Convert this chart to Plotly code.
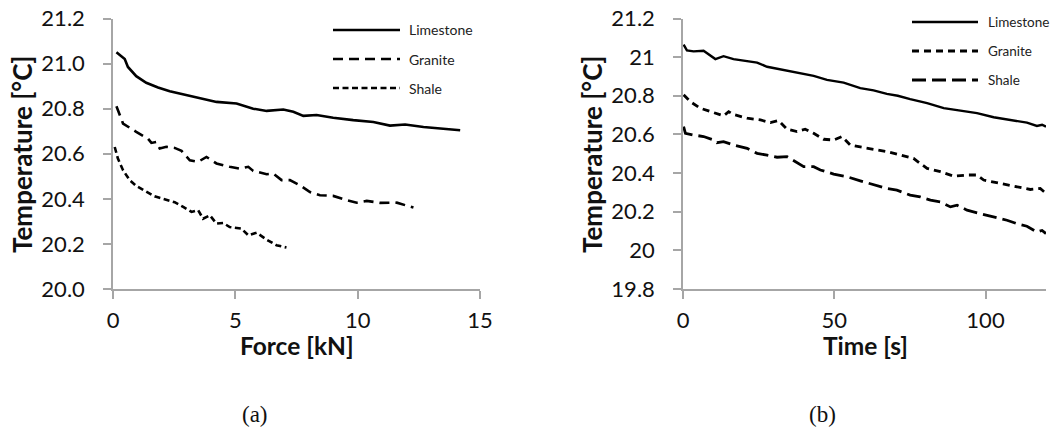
import plotly.graph_objects as go

# ---------------- (a) Temperature vs Force ----------------
a_lime_force = [0.14, 0.48, 0.61, 0.95, 1.36, 1.84, 2.32, 3.0, 3.82, 4.23, 5.05, 5.73, 6.28,
                6.96, 7.37, 7.78, 8.32, 9.0, 9.82, 10.64, 11.32, 11.94, 12.69, 13.5, 14.19]
a_lime_temp = [21.05, 21.02, 20.985, 20.944, 20.915, 20.894, 20.877, 20.86, 20.84, 20.83, 20.823,
               20.80, 20.79, 20.796, 20.786, 20.768, 20.772, 20.76, 20.749, 20.741, 20.725, 20.73,
               20.719, 20.71, 20.704]

a_gran_force = [0.14, 0.41, 0.95, 1.43, 1.57, 1.77, 1.91, 2.18, 2.52, 2.80, 3.14, 3.48, 3.82,
                4.23, 4.77, 5.18, 5.53, 5.73, 6.28, 6.55, 6.89, 7.23, 7.64, 8.05, 8.46, 9.0,
                9.55, 9.96, 10.37, 10.91, 11.6, 12.28]
a_gran_temp = [20.811, 20.734, 20.697, 20.667, 20.648, 20.652, 20.623, 20.631, 20.626, 20.613,
               20.571, 20.564, 20.586, 20.557, 20.542, 20.534, 20.542, 20.524, 20.509, 20.512,
               20.483, 20.483, 20.46, 20.43, 20.416, 20.413, 20.394, 20.383, 20.391, 20.382,
               20.383, 20.361]

a_shale_force = [0.07, 0.2, 0.41, 0.68, 0.95, 1.36, 1.7, 2.05, 2.52, 2.87, 3.21, 3.48, 3.68,
                 3.96, 4.23, 4.5, 4.77, 5.25, 5.53, 5.87, 6.28, 6.68, 7.09]
a_shale_temp = [20.63, 20.579, 20.527, 20.483, 20.457, 20.431, 20.411, 20.40, 20.385, 20.364,
                20.342, 20.35, 20.312, 20.327, 20.29, 20.293, 20.275, 20.268, 20.238, 20.25,
                20.219, 20.194, 20.184]

# ---------------- (b) Temperature vs Time ----------------
b_lime_time = [0.2, 1.3, 3.5, 6.8, 10.7, 13.4, 16.7, 21.2, 24.5, 27.8, 32.2, 37.7, 43.2, 47.6,
               53.1, 58.6, 63.0, 67.4, 71.0, 75.1, 80.7, 86.2, 91.7, 97.2, 102.7, 108.2, 113.7,
               117.0, 118.7, 120.0]
b_lime_temp = [21.065, 21.035, 21.03, 21.033, 20.99, 21.005, 20.99, 20.978, 20.972, 20.95,
               20.937, 20.917, 20.903, 20.882, 20.868, 20.84, 20.828, 20.81, 20.8, 20.783,
               20.762, 20.736, 20.724, 20.71, 20.689, 20.675, 20.661, 20.644, 20.65, 20.64]

b_gran_time = [0.2, 2.4, 5.7, 10.1, 13.4, 15.1, 16.7, 21.2, 25.6, 28.9, 31.6, 34.4, 37.7, 40.4,
               43.2, 46.5, 49.8, 52.6, 55.3, 58.6, 63.0, 67.4, 71.8, 76.2, 78.4, 80.7, 85.1,
               89.5, 93.9, 97.2, 99.4, 104.9, 110.4, 114.8, 118.1, 120.0]
b_gran_temp = [20.805, 20.77, 20.736, 20.713, 20.696, 20.718, 20.703, 20.684, 20.675, 20.661,
               20.672, 20.627, 20.615, 20.627, 20.606, 20.575, 20.571, 20.589, 20.545, 20.535,
               20.523, 20.511, 20.494, 20.476, 20.45, 20.424, 20.407, 20.384, 20.39, 20.39,
               20.364, 20.346, 20.329, 20.315, 20.32, 20.295]

b_shale_time = [0.2, 0.8, 3.5, 6.8, 10.1, 11.2, 13.4, 16.7, 21.2, 24.5, 27.8, 31.1, 34.4, 37.1,
                39.9, 43.2, 45.4, 49.8, 54.2, 58.6, 63.0, 67.4, 70.7, 75.1, 78.4, 81.8, 85.1,
                88.4, 90.6, 93.9, 98.3, 102.7, 107.1, 110.4, 113.7, 117.0, 118.7, 120.0]
b_shale_temp = [20.64, 20.606, 20.597, 20.589, 20.571, 20.557, 20.563, 20.545, 20.528, 20.502,
                20.493, 20.482, 20.485, 20.459, 20.433, 20.433, 20.416, 20.395, 20.381, 20.36,
                20.338, 20.32, 20.312, 20.286, 20.277, 20.26, 20.251, 20.225, 20.234, 20.208,
                20.19, 20.173, 20.156, 20.138, 20.125, 20.095, 20.103, 20.087]

series_names = ["Limestone", "Granite", "Shale"]
a_ticks_y = [20.0, 20.2, 20.4, 20.6, 20.8, 21.0, 21.2]
b_ticks_y = [19.8, 20.0, 20.2, 20.4, 20.6, 20.8, 21.0, 21.2]

W, H = 1053, 432
FONT = "Lato"
INK = "#111111"
AXC = "#a6a6a6"

a_styles = [("solid", 2.6), ("10px,6px", 2.6), ("6px,3.5px", 2.6)]
b_styles = [("solid", 2.4), ("7px,5px", 2.8), ("14px,6px", 2.8)]

fig = go.Figure()
a_data = [(a_lime_force, a_lime_temp), (a_gran_force, a_gran_temp), (a_shale_force, a_shale_temp)]
b_data = [(b_lime_time, b_lime_temp), (b_gran_time, b_gran_temp), (b_shale_time, b_shale_temp)]
for name, (x, y), (dash, w) in zip(series_names, a_data, a_styles):
    fig.add_trace(go.Scatter(x=x, y=y, mode="lines", name=name, showlegend=False,
                             line=dict(color="black", width=w, dash=dash),
                             xaxis="x", yaxis="y"))
for name, (x, y), (dash, w) in zip(series_names, b_data, b_styles):
    fig.add_trace(go.Scatter(x=x, y=y, mode="lines", name=name, showlegend=False,
                             line=dict(color="black", width=w, dash=dash),
                             xaxis="x2", yaxis="y2"))

ydom = [1 - 289 / H, 1 - 18.5 / H]
axis_common = dict(showgrid=False, zeroline=False, showline=True, linecolor=AXC, linewidth=1.5,
                   ticks="outside", ticklen=8, tickwidth=1.5, tickcolor=AXC, automargin=False,
                   tickfont=dict(family=FONT, size=22, color=INK))

fig.update_layout(
    width=W, height=H,
    margin=dict(l=0, r=0, t=0, b=0),
    paper_bgcolor="white", plot_bgcolor="white",
    showlegend=False,
    xaxis=dict(domain=[113 / W, 480 / W], range=[0, 15], tickvals=[0, 5, 10, 15],
               anchor="y", ticklabelstandoff=3, **axis_common),
    yaxis=dict(domain=ydom, range=[20.0, 21.2], tickvals=a_ticks_y, tickformat=".1f",
               anchor="x", ticklabelstandoff=14, **axis_common),
    xaxis2=dict(domain=[683 / W, 1046 / W], range=[0, 120], tickvals=[0, 50, 100],
                anchor="y2", ticklabelstandoff=3, **axis_common),
    yaxis2=dict(domain=ydom, range=[19.8, 21.2], tickvals=b_ticks_y,
                ticktext=[f"{v:g}" for v in b_ticks_y],
                anchor="x2", ticklabelstandoff=14, **axis_common),
)

annots = []
def title(text, x, y, angle=0, size=24.5):
    annots.append(dict(text=f"<b>{text}</b>", x=x / W, y=1 - y / H, xref="paper", yref="paper",
                       showarrow=False, textangle=angle, xanchor="center", yanchor="middle",
                       font=dict(family=FONT, size=size, color=INK)))

title("Force [kN]", 297, 345)
title("Temperature [°C]", 22, 155, -90, 26)
title("Time [s]", 865, 345)
title("Temperature [°C]", 592, 155, -90, 26)

for lab, cx in [("(a)", 255), ("(b)", 822)]:
    annots.append(dict(text=lab, x=cx / W, y=1 - 414 / H, xref="paper", yref="paper",
                       showarrow=False, xanchor="center", yanchor="middle",
                       font=dict(family="Liberation Serif", size=23, color=INK)))

# manual legends (long line samples as in the reference)
shapes = []
legend_sets = [
    (a_styles, 333, 400, 407, [30, 59, 88], 14),
    (b_styles, 912, 978, 986, [22, 51, 80], 13.5),
]
for styles, x0, x1, xt, ys, fs in legend_sets:
    for name, (dash, w), yy in zip(series_names, styles, ys):
        shapes.append(dict(type="line", xref="paper", yref="paper",
                           x0=x0 / W, x1=x1 / W, y0=1 - yy / H, y1=1 - yy / H,
                           line=dict(color="black", width=w, dash=dash)))
        annots.append(dict(text=name, x=xt / W, y=1 - yy / H, xref="paper", yref="paper",
                           showarrow=False, xanchor="left", yanchor="middle",
                           font=dict(family=FONT, size=fs, color="#222222")))

fig.update_layout(annotations=annots, shapes=shapes)
fig.write_html("out.html", config={"displayModeBar": False},
               post_script="document.body.style.margin='0';document.body.style.overflow='hidden';")
